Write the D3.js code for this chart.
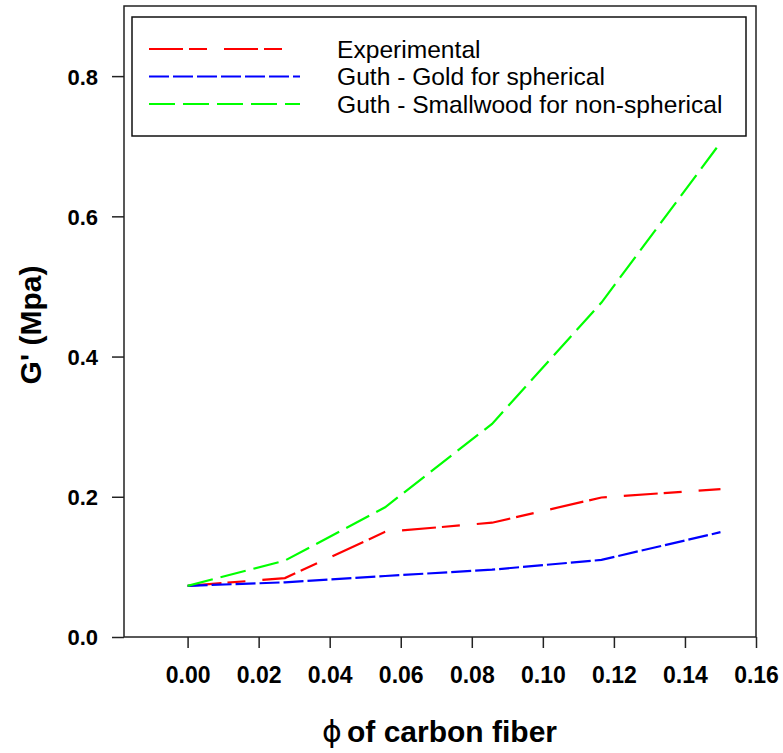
<!DOCTYPE html>
<html>
<head>
<meta charset="utf-8">
<script src="https://cdn.jsdelivr.net/npm/d3@7"></script>
<style>
  body { margin: 0; background: #fff; }
  text { font-family: "Liberation Sans", Arial, sans-serif; }
</style>
</head>
<body>
<div id="container"></div>
<script>
/* DATA */
const phi = [0, 0.0274, 0.0556, 0.0857, 0.1165, 0.15];
const experimental = [0.073, 0.084, 0.150, 0.163, 0.199, 0.211];
const guthGold = [0.073, 0.078, 0.087, 0.096, 0.110, 0.1495];
const guthSmallwood = [0.073, 0.109, 0.185, 0.304, 0.477, 0.705];
const xTicks = [0, 0.02, 0.04, 0.06, 0.08, 0.10, 0.12, 0.14, 0.16];
const yTicks = [0, 0.2, 0.4, 0.6, 0.8];
const seriesNames = ["Experimental", "Guth - Gold for spherical", "Guth - Smallwood for non-spherical"];

const width = 783, height = 753;
const plot = { left: 124, right: 756, top: 6, bottom: 637 };

const svg = d3.select("#container")
  .append("svg")
  .attr("width", width)
  .attr("height", height);

// SCALES
const x = d3.scaleLinear().domain([-0.0179, 0.16]).range([plot.left, plot.right]);
const y = d3.scaleLinear().domain([0, 0.9]).range([plot.bottom, plot.top]);

// frame
svg.append("rect")
  .attr("x", plot.left).attr("y", plot.top)
  .attr("width", plot.right - plot.left).attr("height", plot.bottom - plot.top)
  .attr("fill", "none").attr("stroke", "#222").attr("stroke-width", 1.5);

// AXES
const xAxis = svg.append("g")
  .attr("transform", `translate(0,${plot.bottom})`)
  .call(d3.axisBottom(x).tickValues(xTicks).tickFormat(d3.format(".2f")).tickSize(11).tickSizeOuter(0));
xAxis.select(".domain").remove();
xAxis.selectAll("line").attr("stroke", "#222").attr("stroke-width", 1.5);
xAxis.selectAll("text")
  .attr("dy", 0).attr("y", 46)
  .style("font-size", "23px").style("font-weight", "bold").attr("fill", "#000");

const yAxis = svg.append("g")
  .attr("transform", `translate(${plot.left},0)`)
  .call(d3.axisLeft(y).tickValues(yTicks).tickFormat(d3.format(".1f")).tickSize(12).tickSizeOuter(0));
yAxis.select(".domain").remove();
yAxis.selectAll("line").attr("stroke", "#222").attr("stroke-width", 1.5);
yAxis.selectAll("text")
  .attr("x", -26).attr("dy", "0.36em")
  .style("font-size", "22px").style("font-weight", "bold").attr("fill", "#000");

// axis titles
svg.append("text")
  .attr("x", 322).attr("y", 742)
  .style("font-size", "30px").style("font-family", "DejaVu Sans")
  .text("ϕ");
svg.append("text")
  .attr("x", 347).attr("y", 742)
  .style("font-size", "30px").style("font-weight", "bold")
  .text("of carbon fiber");

svg.append("text")
  .attr("transform", "translate(41,325) rotate(-90)")
  .attr("text-anchor", "middle")
  .style("font-size", "30px").style("font-weight", "bold")
  .text("G' (Mpa)");

// LINES
const series = [
  { name: seriesNames[0], values: experimental, color: "#ff0000", dash: "34,6,18,17", end: 282 },
  { name: seriesNames[1], values: guthGold, color: "#0000ff", dash: "20,4", end: 300 },
  { name: seriesNames[2], values: guthSmallwood, color: "#00ff00", dash: "26,8", end: 300 }
];

const line = d3.line()
  .x((d, i) => x(phi[i]))
  .y(d => y(d));

svg.selectAll(".series")
  .data(series)
  .enter()
  .append("path")
  .attr("class", "series")
  .attr("d", d => line(d.values))
  .attr("fill", "none")
  .attr("stroke", d => d.color)
  .attr("stroke-width", 2.2)
  .attr("stroke-dasharray", d => d.dash);

// LEGEND
const legend = svg.append("g");
legend.append("rect")
  .attr("x", 132).attr("y", 17)
  .attr("width", 614).attr("height", 119)
  .attr("fill", "#fff").attr("stroke", "#111").attr("stroke-width", 1.5);

const items = legend.selectAll(".item")
  .data(series)
  .enter()
  .append("g")
  .attr("transform", (d, i) => `translate(0,${49 + i * 27.5})`);

items.append("line")
  .attr("x1", 149).attr("x2", d => d.end)
  .attr("stroke", d => d.color)
  .attr("stroke-width", 2.2)
  .attr("stroke-dasharray", d => d.dash);

items.append("text")
  .attr("x", 337).attr("y", 8.5)
  .style("font-size", "24.6px")
  .text(d => d.name);
</script>
</body>
</html>
